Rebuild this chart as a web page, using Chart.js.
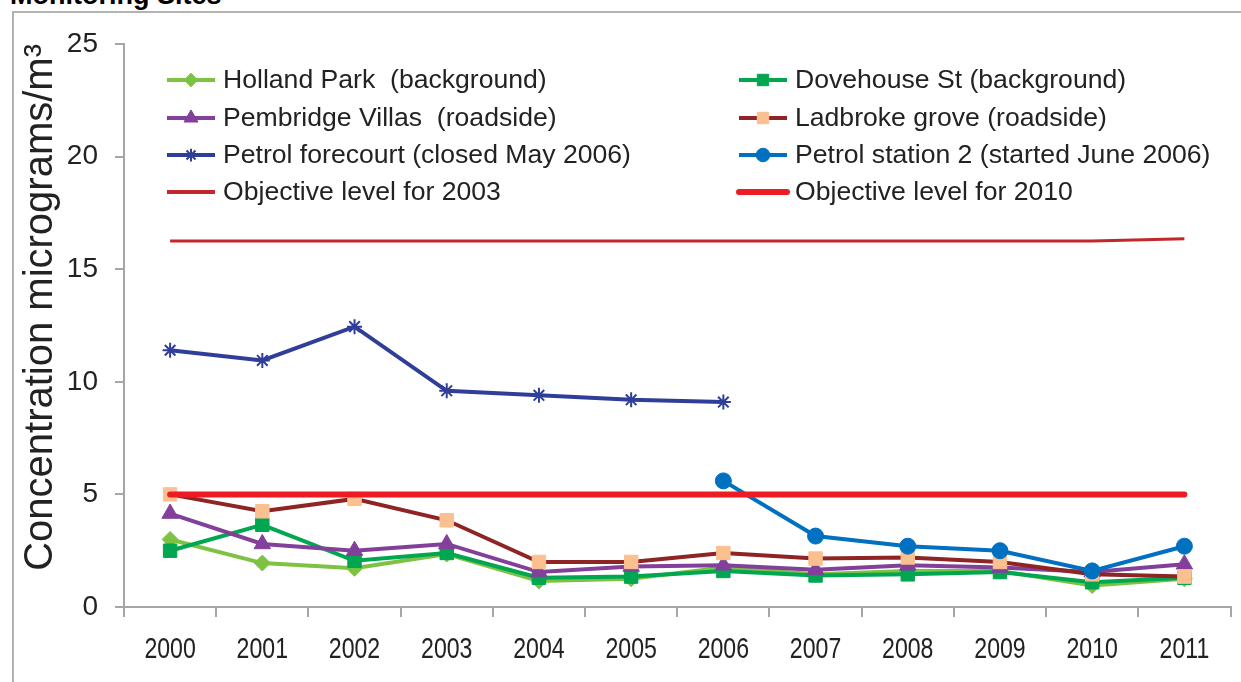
<!DOCTYPE html>
<html>
<head>
<meta charset="utf-8">
<script src="https://cdn.jsdelivr.net/npm/chart.js@4.4.1/dist/chart.umd.min.js"></script>
<style>
body { margin:0; background:#fff; width:1241px; height:682px; overflow:hidden; position:relative; font-family:"Liberation Sans", Arial, sans-serif; }
#frame { position:absolute; left:12px; top:11px; width:1300px; height:800px; border-left:2px solid #b3b3b3; border-top:2px solid #b3b3b3; }
#title { position:absolute; left:10px; top:-18px; font-weight:bold; font-size:27px; line-height:27px; color:#000; white-space:nowrap; }
#wrap { position:absolute; left:0; top:0; width:1241px; height:682px; }
</style>
</head>
<body>
<div id="title">Monitoring Sites</div>
<div id="frame"></div>
<div id="wrap"><canvas id="chart" width="1241" height="682"></canvas></div>
<script>
// years on the x axis
const years = ['2000', '2001', '2002', '2003', '2004', '2005', '2006', '2007', '2008', '2009', '2010', '2011'];

// annual means, micrograms/m3
const hollandPark = [3.0, 1.95, 1.72, 2.35, 1.15, 1.25, 1.75, 1.45, 1.6, 1.6, 0.95, 1.25];
const dovehouseSt = [2.5, 3.65, 2.05, 2.4, 1.3, 1.35, 1.6, 1.4, 1.45, 1.55, 1.1, 1.3];
const pembridgeVillas = [4.15, 2.8, 2.5, 2.8, 1.55, 1.8, 1.85, 1.65, 1.85, 1.75, 1.55, 1.9];
const ladbrokeGrove = [5.0, 4.25, 4.8, 3.85, 2.0, 2.0, 2.4, 2.15, 2.2, 2.0, 1.45, 1.35];
const petrolForecourt = [11.4, 10.95, 12.45, 9.6, 9.4, 9.2, 9.1, null, null, null, null, null];
const petrolStation2 = [null, null, null, null, null, null, 5.6, 3.15, 2.7, 2.5, 1.6, 2.7];
const objective2003 = [16.25, 16.25, 16.25, 16.25, 16.25, 16.25, 16.25, 16.25, 16.25, 16.25, 16.25, 16.35];
const objective2010 = [5, 5, 5, 5, 5, 5, 5, 5, 5, 5, 5, 5];

const yTicks = { min: 0, max: 25, step: 5 };

// legend laid out in two columns like the original
const legendX = [165, 737];
const legendY = [80, 118, 155, 192];

function series(label, data, colour, style) {
    return Object.assign({
        label: label,
        data: data,
        borderColor: colour,
        backgroundColor: colour,
        borderWidth: 4,
        pointBackgroundColor: colour,
        pointBorderColor: colour,
        pointBorderWidth: 1,
        pointRadius: 0,
        tension: 0,
        spanGaps: false
    }, style);
}

const datasets = [
    series('Holland Park  (background)', hollandPark, '#7DC242', { pointStyle: 'rectRot', pointRadius: 8, order: 8 }),
    series('Dovehouse St (background)', dovehouseSt, '#00A650', { pointStyle: 'rect', pointRadius: 9.5, order: 7 }),
    series('Pembridge Villas  (roadside)', pembridgeVillas, '#83409A', { pointStyle: 'triangle', pointRadius: 9.5, order: 6 }),
    series('Ladbroke grove (roadside)', ladbrokeGrove, '#8E2424', { pointStyle: 'rect', pointRadius: 9.5, pointBackgroundColor: '#FAC090', pointBorderColor: '#FAC090', order: 5 }),
    series('Petrol forecourt (closed May 2006)', petrolForecourt, '#2F3F99', { pointStyle: 'star', pointRadius: 7.5, pointBorderWidth: 2, order: 4 }),
    series('Petrol station 2 (started June 2006)', petrolStation2, '#0070C0', { pointStyle: 'circle', pointRadius: 8, order: 3 }),
    series('Objective level for 2003', objective2003, '#C1272D', { borderWidth: 3, order: 2 }),
    series('Objective level for 2010', objective2010, '#ED1C24', { borderWidth: 6, borderCapStyle: 'round', order: 1 })
];

const columnLegend = {
    id: 'columnLegend',
    afterDraw(chart) {
        const ctx = chart.ctx;
        chart.data.datasets.forEach((ds, i) => {
            const x = legendX[i % 2];
            const y = legendY[Math.floor(i / 2)];
            ctx.save();
            ctx.strokeStyle = ds.borderColor;
            ctx.lineWidth = Math.max(ds.borderWidth, 4);
            ctx.lineCap = ds.borderCapStyle || 'butt';
            ctx.beginPath();
            ctx.moveTo(x + 2, y);
            ctx.lineTo(x + 50, y);
            ctx.stroke();
            if (ds.pointRadius > 0) {
                ctx.fillStyle = ds.pointBackgroundColor;
                ctx.strokeStyle = ds.pointBorderColor;
                ctx.lineWidth = ds.pointBorderWidth;
                Chart.helpers.drawPoint(ctx, {
                    pointStyle: ds.pointStyle,
                    radius: ds.pointRadius * 0.85,
                    borderWidth: ds.pointBorderWidth,
                    rotation: 0
                }, x + 26, y);
            }
            ctx.fillStyle = '#222';
            ctx.font = '26.6px "Liberation Sans", Arial, sans-serif';
            ctx.textBaseline = 'middle';
            ctx.textAlign = 'left';
            ctx.fillText(ds.label, x + 58, y + 1);
            ctx.restore();
        });
    }
};

// the year labels in the original are set in a narrow face; squeeze them the same way
const narrowYears = {
    id: 'narrowYears',
    afterDraw(chart) {
        const scale = chart.scales.x;
        const ctx = chart.ctx;
        ctx.save();
        ctx.font = '30px "Liberation Sans", Arial, sans-serif';
        ctx.fillStyle = '#222';
        ctx.textAlign = 'center';
        ctx.textBaseline = 'alphabetic';
        chart.data.labels.forEach((label, i) => {
            ctx.save();
            ctx.translate(scale.getPixelForTick(i), 658);
            ctx.scale(0.77, 1);
            ctx.fillText(label, 0, 0);
            ctx.restore();
        });
        ctx.restore();
    }
};

const axisGrey = '#A6A6A6';

new Chart(document.getElementById('chart').getContext('2d'), {
    type: 'line',
    data: { labels: years, datasets: datasets },
    plugins: [columnLegend, narrowYears],
    options: {
        responsive: false,
        animation: false,
        layout: { padding: { top: 44, right: 3, left: 0, bottom: 0 } },
        plugins: {
            legend: { display: false },
            tooltip: { enabled: false }
        },
        scales: {
            x: {
                offset: true,
                grid: { offset: true, drawOnChartArea: false, drawTicks: true, tickLength: 10, color: axisGrey, lineWidth: 2 },
                border: { color: axisGrey, width: 2 },
                ticks: { display: false, autoSkip: false, maxRotation: 0 },
                afterFit: s => { s.height = 75; }
            },
            y: {
                min: yTicks.min,
                max: yTicks.max,
                grid: { drawOnChartArea: false, drawTicks: true, tickLength: 9, color: axisGrey, lineWidth: 2 },
                border: { color: axisGrey, width: 2 },
                ticks: {
                    stepSize: yTicks.step,
                    font: { family: '"Liberation Sans", Arial, sans-serif', size: 28 },
                    color: '#222',
                    padding: 17
                },
                title: {
                    display: true,
                    text: 'Concentration micrograms/m³',
                    font: { family: '"Liberation Sans", Arial, sans-serif', size: 40 },
                    color: '#222',
                    align: 'end',
                    padding: { top: 17, bottom: 0 }
                },
                afterFit: s => { s.width = 124; }
            }
        }
    }
});
</script>
</body>
</html>
